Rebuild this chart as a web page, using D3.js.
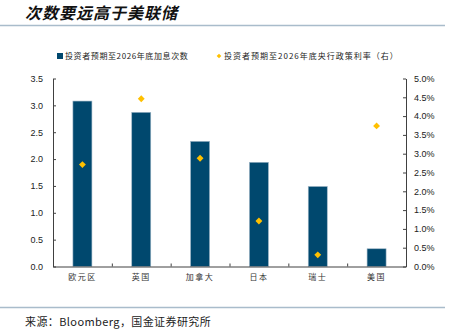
<!DOCTYPE html>
<html>
<head>
<meta charset="utf-8">
<script src="https://cdn.jsdelivr.net/npm/d3@7/dist/d3.min.js"></script>
<style>
  html, body { margin: 0; padding: 0; background: #fff; }
  svg { display: block; }
</style>
</head>
<body>
<svg id="chart" width="456" height="336"></svg>
<script>
// Categories and series
const regions = ["欧元区", "英国", "加拿大", "日本", "瑞士", "美国"];
const hikeCounts = [3.08, 2.87, 2.33, 1.94, 1.49, 0.33];       // 投资者预期至2026年底加息次数
const policyRates = [2.71, 4.46, 2.88, 1.21, 0.31, 3.74];      // 投资者预期至2026年底央行政策利率 (%)
const leftTicks = [0, 0.5, 1.0, 1.5, 2.0, 2.5, 3.0, 3.5];
const rightTicks = [0, 0.5, 1.0, 1.5, 2.0, 2.5, 3.0, 3.5, 4.0, 4.5, 5.0];

const title = "次数要远高于美联储";
const legendBar = "投资者预期至2026年底加息次数";
const legendDot = "投资者预期至2026年底央行政策利率（右）";
const source = "来源：Bloomberg，国金证券研究所";

const W = 456, H = 336;
const plot = { left: 53, right: 406, top: 78.5, bottom: 266.5 };
const barColor = "#00486e";
const dotColor = "#ffc000";
const axisColor = "#404040";
const ruleColor = "#a9bccb";
const cjk = "'Noto Sans CJK SC', sans-serif";
const latin = "'Liberation Sans', Arial, sans-serif";

const svg = d3.select("#chart");

// Title and rules
svg.append("text")
  .attr("x", 25).attr("y", 19)
  .attr("font-family", cjk)
  .attr("font-size", 16)
  .attr("font-weight", 700)
  .attr("font-style", "italic")
  .attr("letter-spacing", 1)
  .attr("fill", "#111")
  .text(title);

svg.append("line")
  .attr("x1", 0).attr("x2", 445).attr("y1", 25.5).attr("y2", 25.5)
  .attr("stroke", ruleColor).attr("stroke-width", 1.5);

svg.append("line")
  .attr("x1", 0).attr("x2", 445).attr("y1", 307.5).attr("y2", 307.5)
  .attr("stroke", ruleColor).attr("stroke-width", 1.5);

svg.append("text")
  .attr("x", 25).attr("y", 326)
  .attr("font-family", cjk)
  .attr("font-size", 11)
  .attr("letter-spacing", 0.4)
  .attr("fill", "#222")
  .text(source);

// Scales
const xc = d3.scaleBand().domain(regions).range([plot.left, plot.right]);
const yL = d3.scaleLinear().domain([0, 3.5]).range([plot.bottom, plot.top]);
const yR = d3.scaleLinear().domain([0, 5]).range([plot.bottom, plot.top]);

// Bars
svg.append("g").selectAll("rect")
  .data(regions)
  .join("rect")
  .attr("x", (d) => xc(d) + xc.bandwidth() / 2 - 9.5)
  .attr("width", 19)
  .attr("y", (d, i) => yL(hikeCounts[i]))
  .attr("height", (d, i) => plot.bottom - yL(hikeCounts[i]))
  .attr("fill", barColor)
  .attr("stroke", "#9db5c6")
  .attr("stroke-width", 0.6);

// Diamonds
const diamond = d3.symbol().type(d3.symbolDiamond2).size(30);
svg.append("g").selectAll("path")
  .data(regions)
  .join("path")
  .attr("d", diamond)
  .attr("transform", (d, i) => `translate(${xc(d) + xc.bandwidth() / 2},${yR(policyRates[i])})`)
  .attr("fill", dotColor);

// Axes
const leftAxis = d3.axisLeft(yL).tickValues(leftTicks).tickFormat(d3.format(".1f")).tickSizeInner(-3).tickSizeOuter(0).tickPadding(10);
const rightAxis = d3.axisRight(yR).tickValues(rightTicks).tickFormat((d) => d.toFixed(1) + "%").tickSizeInner(-3).tickSizeOuter(0).tickPadding(8);
const bottomAxis = d3.axisBottom(xc).tickSize(0).tickPadding(8);

function styleAxis(g) {
  g.select(".domain").attr("stroke", axisColor).attr("stroke-width", 1);
  g.selectAll(".tick line").attr("stroke", axisColor);
  g.selectAll("text").attr("fill", "#222");
}

svg.append("g")
  .attr("transform", `translate(${plot.left},0)`)
  .call(leftAxis)
  .call(styleAxis)
  .call((g) => g.selectAll("text").attr("font-family", latin).attr("font-size", 9));

svg.append("g")
  .attr("transform", `translate(${plot.right},0)`)
  .call(rightAxis)
  .call(styleAxis)
  .call((g) => g.selectAll("text").attr("font-family", latin).attr("font-size", 9).attr("text-anchor", "start"));

const bottom = svg.append("g")
  .attr("transform", `translate(0,${plot.bottom})`)
  .call(bottomAxis)
  .call(styleAxis);
bottom.selectAll("text").attr("font-family", cjk).attr("font-size", 8).attr("fill", "#333").attr("letter-spacing", 1.5);

// Category separators on the x axis
svg.append("g").selectAll("line")
  .data(regions.slice(1))
  .join("line")
  .attr("x1", (d) => xc(d) + 0.5).attr("x2", (d) => xc(d) + 0.5)
  .attr("y1", plot.bottom).attr("y2", plot.bottom - 3)
  .attr("stroke", axisColor);

// Legend
const legend = svg.append("g").attr("font-family", cjk).attr("font-size", 8).attr("fill", "#222");
legend.append("rect").attr("x", 57).attr("y", 53).attr("width", 6).attr("height", 6).attr("fill", barColor);
legend.append("text").attr("x", 65).attr("y", 59).attr("letter-spacing", 0.6).text(legendBar);
legend.append("path").attr("d", d3.symbol().type(d3.symbolDiamond2).size(14))
  .attr("transform", "translate(219,56)").attr("fill", dotColor);
legend.append("text").attr("x", 224).attr("y", 59).attr("letter-spacing", 1).text(legendDot);
</script>
</body>
</html>
